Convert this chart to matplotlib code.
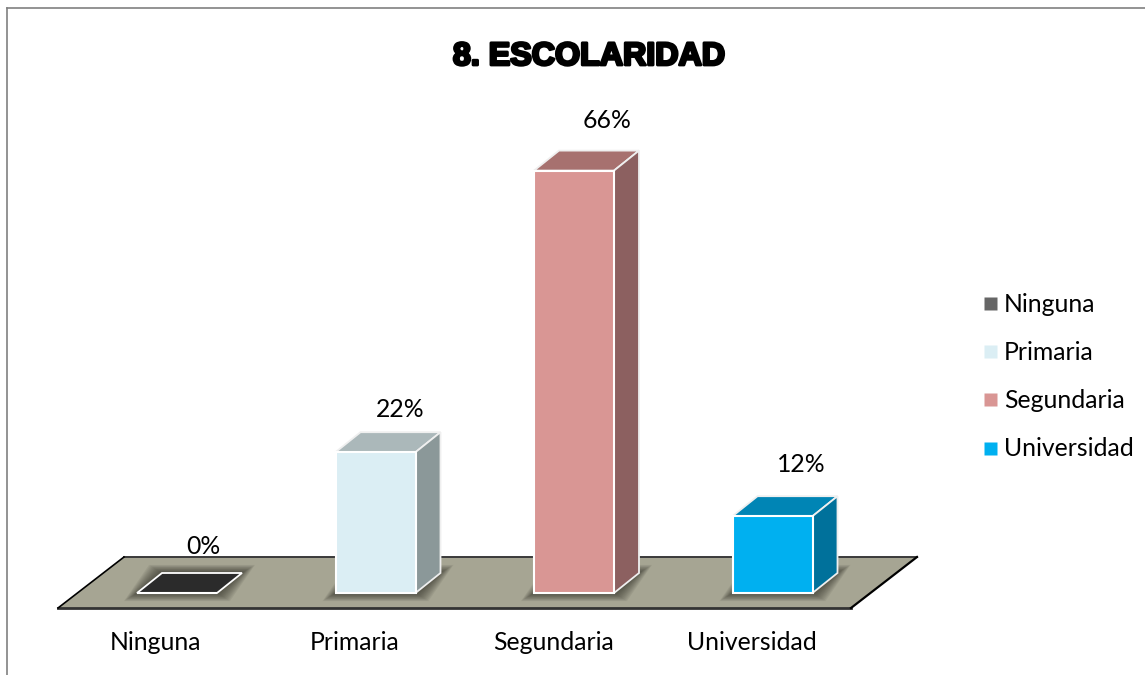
"""Pseudo-3D column chart of schooling levels."""

import matplotlib

matplotlib.use("Agg")
import matplotlib.patheffects as pe
import matplotlib.pyplot as plt
from matplotlib.lines import Line2D
from matplotlib.patches import Polygon

categories = ["Ninguna", "Primaria", "Segundaria", "Universidad"]
values = [0, 22, 66, 12]
value_labels = ["0%", "22%", "66%", "12%"]
title = "8. ESCOLARIDAD"

front_colors = ["#2B2B2B", "#DBEEF4", "#D99694", "#00B0F0"]
top_colors = ["#2B2B2B", "#ABB8BA", "#A7716F", "#0085B5"]
side_colors = ["#2B2B2B", "#8B9899", "#8C6060", "#00719B"]
legend_colors = ["#666666", "#DBEEF4", "#D99694", "#00B0F0"]

FONT = "Lato"
LABEL_SIZE = 17.8
W, H = 1145, 675
PX_X = 1 / 198.5  # one pixel in category units
PX_Y = 1 / 6.4  # one pixel in percent units
BAR_W = 80 * PX_X
DEPTH_X, DEPTH_Y = 25 * PX_X, 20 * PX_Y
# label offsets from the bar's front-top centre, in pixels
LABEL_OFFSETS = [(26, 46.5), (25, 43), (33, 50.5), (29, 52)]


def _points(px):
    return px * 72 / 100


def _add_shadow(ax, x, half_w):
    """Soft dark glow on the floor around a bar foot."""
    for step in range(12):
        grow = 13 - step * 1.1
        gx, gy = grow * PX_X, grow * 0.62 * PX_Y
        left = x - half_w
        right = x + half_w
        ax.add_patch(
            Polygon(
                [
                    (left - gx, -gy),
                    (right + gx, -gy),
                    (right + DEPTH_X + gx, DEPTH_Y + gy),
                    (left + DEPTH_X - gx, DEPTH_Y + gy),
                ],
                facecolor="#2A2A20",
                edgecolor="none",
                alpha=0.075,
                zorder=2,
            )
        )


def main() -> None:
    plt.rcParams["font.family"] = [FONT, "DejaVu Sans"]
    fig = plt.figure(figsize=(W / 100, H / 100), dpi=100, facecolor="white")
    # axes spans the front edge of the floor
    ax = fig.add_axes([58 / W, 1 - 608 / H, (851 - 58) / W, 508 / H])
    ax.set_xlim(-119 * PX_X, 674 * PX_X)
    ax.set_ylim(-15 * PX_Y, 493 * PX_Y)
    ax.axis("off")

    x0, x1 = ax.get_xlim()
    y0 = ax.get_ylim()[0]
    floor_dx, floor_dy = 66 * PX_X, 51 * PX_Y
    ax.add_patch(
        Polygon(
            [(x0, y0), (x1, y0), (x1 + floor_dx, y0 + floor_dy), (x0 + floor_dx, y0 + floor_dy)],
            facecolor="#A6A593",
            edgecolor="none",
            zorder=1,
            clip_on=False,
        )
    )
    ax.plot([x0, x1], [y0, y0], color="#333333", lw=2.0, zorder=1.5, clip_on=False)
    ax.plot([x0 + floor_dx, x1 + floor_dx], [y0 + floor_dy] * 2, color="#3A3A3A", lw=1.4, zorder=1.5, clip_on=False)
    ax.plot([x0, x0 + floor_dx], [y0, y0 + floor_dy], color="black", lw=1.2, zorder=1.5, clip_on=False)
    ax.plot([x1, x1 + floor_dx], [y0, y0 + floor_dy], color="black", lw=1.6, zorder=1.5, clip_on=False)

    xs = list(range(len(categories)))
    for x in xs:
        _add_shadow(ax, x, BAR_W / 2)

    ax.bar(xs, values, width=BAR_W, color=front_colors, edgecolor="white", linewidth=1.5, zorder=5)

    for x, v, top, side in zip(xs, values, top_colors, side_colors):
        left, right = x - BAR_W / 2, x + BAR_W / 2
        ax.add_patch(
            Polygon(
                [(left, v), (right, v), (right + DEPTH_X, v + DEPTH_Y), (left + DEPTH_X, v + DEPTH_Y)],
                facecolor=top,
                edgecolor="white" if v == 0 else "#EFEFEF",
                linewidth=1.3,
                zorder=4,
                clip_on=False,
            )
        )
        if v > 0:
            ax.add_patch(
                Polygon(
                    [(right, 0), (right + DEPTH_X, DEPTH_Y), (right + DEPTH_X, v + DEPTH_Y), (right, v)],
                    facecolor=side,
                    edgecolor="#EFEFEF",
                    linewidth=1.3,
                    zorder=4,
                    clip_on=False,
                )
            )

    for x, v, text, (dx, dy) in zip(xs, values, value_labels, LABEL_OFFSETS):
        ax.annotate(
            text,
            (x, v),
            xytext=(_points(dx), _points(dy)),
            textcoords="offset points",
            ha="center",
            va="center",
            fontsize=LABEL_SIZE,
            color="black",
            annotation_clip=False,
        )
        ax.annotate(
            categories[x],
            (x, 0),
            xytext=(_points(-21), _points(-50)),
            textcoords="offset points",
            ha="center",
            va="center",
            fontsize=LABEL_SIZE,
            color="black",
            annotation_clip=False,
        )

    handles = [
        Line2D([], [], linestyle="none", marker="s", markersize=_points(13), color=c, markeredgecolor="none")
        for c in legend_colors
    ]
    fig.legend(
        handles,
        categories,
        loc="center left",
        bbox_to_anchor=(965 / W, 1 - 376.5 / H),
        frameon=False,
        fontsize=LABEL_SIZE,
        labelspacing=1.02,
        handlelength=1.0,
        handletextpad=0.08,
        borderpad=0,
    )

    fig.text(
        589 / W,
        1 - 57 / H,
        title,
        ha="center",
        va="center",
        fontsize=23.2,
        fontweight="bold",
        family="Liberation Sans",
        color="black",
        path_effects=[pe.withStroke(linewidth=2.0, foreground="black")],
    )

    # chart-area border, open on the right and bottom
    fig.add_artist(Line2D([7 / W, 7 / W], [0, 1 - 8 / H], color="#808080", lw=1.2))
    fig.add_artist(Line2D([7 / W, 1], [1 - 8 / H, 1 - 8 / H], color="#808080", lw=1.2))

    fig.savefig("out.png", dpi=100, facecolor="white")
    plt.close(fig)


if __name__ == "__main__":
    main()
